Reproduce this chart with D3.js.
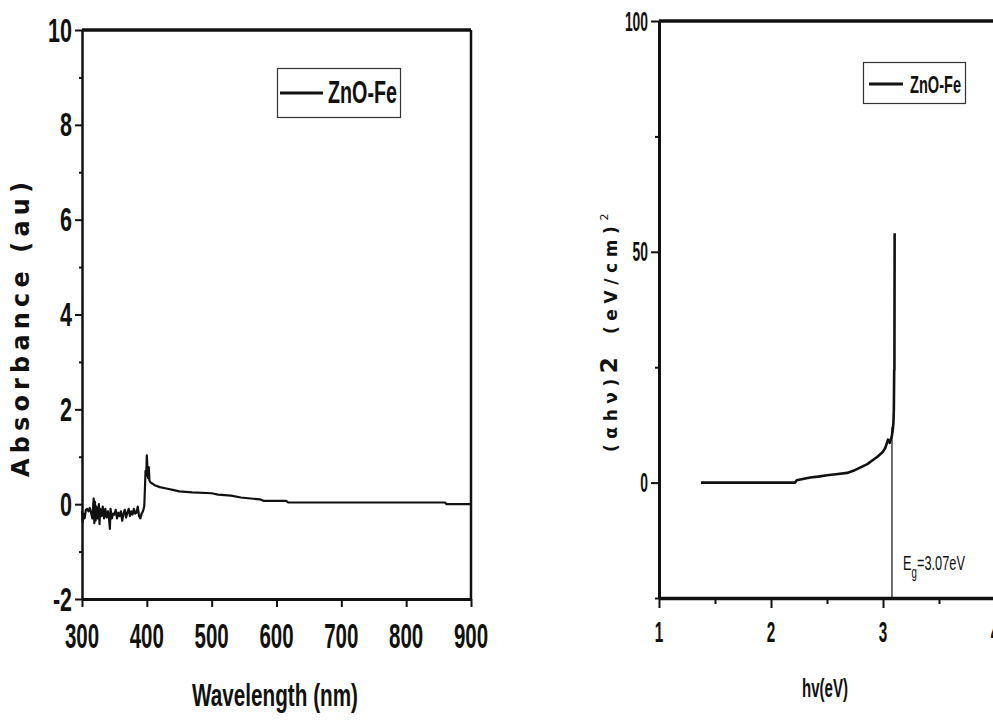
<!DOCTYPE html>
<html><head><meta charset="utf-8">
<script src="https://cdn.jsdelivr.net/npm/d3@7"></script>
<style>body{margin:0;background:#fff}svg{display:block}</style>
</head><body>
<svg id="c" width="993" height="720"></svg>
<script>
// ---------- data: left panel (UV-Vis absorbance) ----------
const wavelength = [300,301,302,304,306,308,310,312,314,316,318,319,320,321,322,324,326,327,328,330,332,334,336,338,340,342,343,344,346,348,350,352,354,356,358,360,362,364,366,368,370,372,374,376,378,380,382,384,386,388,390,392,394,396,397,398,399,400,401,402,403,404,406,408,412,420,430,440,450,470,500,510,530,545,560,575,580,615,618,860,862,900];
const absorbance = [-0.15,-0.38,-0.2,-0.3,-0.12,-0.1,-0.15,-0.08,-0.18,-0.3,0.12,-0.4,0.05,-0.35,-0.05,-0.3,0.0,-0.42,-0.1,-0.25,-0.05,-0.3,-0.1,-0.28,-0.15,-0.35,-0.52,-0.1,-0.3,-0.2,-0.22,-0.12,-0.3,-0.18,-0.25,-0.15,-0.35,-0.2,-0.12,-0.28,-0.18,-0.1,-0.25,-0.15,-0.22,-0.1,-0.2,-0.18,-0.05,-0.25,-0.3,-0.2,-0.15,-0.05,0.3,0.7,0.6,1.03,0.75,0.55,0.78,0.5,0.45,0.44,0.4,0.36,0.33,0.3,0.27,0.25,0.23,0.2,0.18,0.14,0.12,0.1,0.07,0.07,0.035,0.035,0.0,0.0];
const leftXTicks = [300,400,500,600,700,800,900];
const leftYTicks = [-2,0,2,4,6,8,10];
const leftYMinor = [-1,1,3,5,7,9];
const seriesName = "ZnO-Fe";

// ---------- data: right panel (Tauc plot) ----------
const photonEnergy = [1.375,1.6,1.8,2.0,2.214,2.23,2.35,2.42,2.5,2.58,2.68,2.74,2.8,2.86,2.91,2.95,3.0,3.02,3.045,3.06,3.078,3.085,3.093,3.097,3.1,3.102,3.104];
const tauc = [0,0,0,0,0,0.5,1.1,1.3,1.6,1.8,2.1,2.6,3.3,4.0,4.9,5.6,6.7,7.5,9.3,8.6,10.0,11.0,12.9,16,24.4,24.4,54];
const rightXTicks = [1,2,3,4];
const rightXMinor = [1.5,2.5,3.5];
const rightYTicks = [0,50,100];
const rightYMinor = [-25,25,75];
const egLineX = [3.08,3.08];
const egLineY = [12,-25];
const egLabel = "=3.07eV";

const svg = d3.select("#c");
const NARROW = "'Liberation Sans Narrow','Arial Narrow','Liberation Sans',sans-serif";
const WIDE = "'DejaVu Sans',Verdana,sans-serif";

function txt(g, s, x, y, o) {
  const t = g.append("text").attr("x", x).attr("y", y).text(s)
    .attr("font-family", o.family || NARROW)
    .attr("font-weight", o.weight || "bold")
    .attr("font-size", o.size)
    .attr("text-anchor", o.anchor || "start")
    .attr("fill", "#111");
  if (o.len) t.attr("textLength", o.len).attr("lengthAdjust", o.adj || "spacingAndGlyphs");
  return t;
}
function labelWidth(s, dw, mw) {
  let w = 0; for (const ch of String(s)) w += (ch === "-" ? mw : dw); return w;
}

// ================= LEFT PANEL =================
const xL = d3.scaleLinear().domain([300, 900]).range([82, 471]);
const yL = d3.scaleLinear().domain([-2, 10]).range([599, 30]);
const gL = svg.append("g");

gL.append("line").attr("x1", xL(300)).attr("x2", xL(900)).attr("y1", yL(10)).attr("y2", yL(10))
  .attr("stroke", "#111").attr("stroke-width", 3.5);
gL.append("line").attr("x1", xL(900)).attr("x2", xL(900)).attr("y1", yL(10)).attr("y2", yL(-2))
  .attr("stroke", "#111").attr("stroke-width", 2.5);

function styleAxis(sel, dw, tw) {
  sel.select(".domain").attr("stroke", "#111").attr("stroke-width", dw);
  sel.selectAll(".tick line").attr("stroke", "#111").attr("stroke-width", tw);
  sel.selectAll(".tick text").remove();
}
gL.append("g").attr("transform", `translate(${xL(300)},0)`)
  .call(d3.axisLeft(yL).tickValues(leftYMinor).tickSize(3).tickSizeOuter(0).tickFormat(""))
  .call(s => styleAxis(s, 0, 2));
gL.append("g").attr("transform", `translate(${xL(300)},0)`)
  .call(d3.axisLeft(yL).tickValues(leftYTicks).tickSize(7).tickSizeOuter(0).tickFormat(""))
  .call(s => styleAxis(s, 2.5, 2));
gL.append("g").attr("transform", `translate(0,${yL(-2)})`)
  .call(d3.axisBottom(xL).tickValues(leftXTicks).tickSize(8).tickSizeOuter(0).tickFormat(""))
  .call(s => styleAxis(s, 3, 2));

leftYTicks.forEach(v => txt(gL, String(v), 72, yL(v) + 11.5, {size: 33, anchor: "end", len: labelWidth(v, 12, 7)}));
leftXTicks.forEach(v => txt(gL, String(v), xL(v), 648, {size: 35, anchor: "middle", len: labelWidth(v, 11.4, 7)}));

txt(gL, "Wavelength (nm)", 192, 706, {size: 32, len: 166});
txt(gL, "Absorbance (au)", 0, 0, {size: 24, family: WIDE, len: 295, adj: "spacing"})
  .attr("transform", "translate(29,477) rotate(-90)");

const lineL = d3.line().x(d => xL(d[0])).y(d => yL(d[1]));
gL.append("path").datum(wavelength.map((w, i) => [w, absorbance[i]]))
  .attr("d", lineL).attr("fill", "none").attr("stroke", "#111").attr("stroke-width", 2.2)
  .attr("stroke-linejoin", "round");

gL.append("rect").attr("x", 277.5).attr("y", 68.5).attr("width", 123).attr("height", 49)
  .attr("fill", "#fff").attr("stroke", "#333").attr("stroke-width", 1.2);
gL.append("line").attr("x1", 280).attr("x2", 323).attr("y1", 93).attr("y2", 93)
  .attr("stroke", "#111").attr("stroke-width", 3);
txt(gL, seriesName, 328, 103, {size: 31, len: 69});

// ================= RIGHT PANEL =================
const xR = d3.scaleLinear().domain([1, 4]).range([659, 995]);
const yR = d3.scaleLinear().domain([-25, 100]).range([598, 21]);
const gR = svg.append("g");

gR.append("line").attr("x1", xR(1)).attr("x2", xR(4)).attr("y1", yR(100)).attr("y2", yR(100))
  .attr("stroke", "#111").attr("stroke-width", 3.5);

gR.append("g").attr("transform", `translate(${xR(1)},0)`)
  .call(d3.axisLeft(yR).tickValues(rightYMinor).tickSize(4).tickSizeOuter(0).tickFormat(""))
  .call(s => styleAxis(s, 0, 2));
gR.append("g").attr("transform", `translate(${xR(1)},0)`)
  .call(d3.axisLeft(yR).tickValues(rightYTicks).tickSize(8).tickSizeOuter(0).tickFormat(""))
  .call(s => styleAxis(s, 3, 2));
gR.append("g").attr("transform", `translate(0,${yR(-25)})`)
  .call(d3.axisBottom(xR).tickValues(rightXMinor).tickSize(6).tickSizeOuter(0).tickFormat(""))
  .call(s => styleAxis(s, 0, 2));
gR.append("g").attr("transform", `translate(0,${yR(-25)})`)
  .call(d3.axisBottom(xR).tickValues(rightXTicks).tickSize(10).tickSizeOuter(0).tickFormat(""))
  .call(s => styleAxis(s, 3.5, 2));

rightYTicks.forEach(v => txt(gR, String(v), 648, yR(v) + 9.5, {size: 27, anchor: "end", len: labelWidth(v, 7.7, 5)}));
rightXTicks.forEach(v => txt(gR, String(v), xR(v), 642, {size: 30, anchor: "middle", len: labelWidth(v, 8.5, 5)}));

txt(gR, "hv(eV)", 802, 697, {size: 26, len: 46});

// rotated y title, fitted to the reference span
const yt = gR.append("text").attr("transform", "translate(617,452) rotate(-90)")
  .attr("font-family", WIDE).attr("font-weight", "bold").attr("fill", "#111")
  .attr("font-size", 17);
const t1 = yt.append("tspan").text("(\u03B1h\u03BD)");
const t2 = yt.append("tspan").attr("font-size", 23).text("2");
const t3 = yt.append("tspan").attr("dx", 6).text(" (eV/cm)");
const t4 = yt.append("tspan").attr("font-size", 11).attr("font-weight", "normal").attr("dy", -9).text("2");
{
  const L0 = yt.node().getComputedTextLength();
  const n = "(\u03B1h\u03BD)2 (eV/cm)2".length;
  const sp = Math.max(0, (238 - L0) / n);
  yt.attr("letter-spacing", sp);
}

gR.append("line").attr("x1", xR(egLineX[0])).attr("x2", xR(egLineX[1]))
  .attr("y1", yR(egLineY[0])).attr("y2", yR(egLineY[1]))
  .attr("stroke", "#111").attr("stroke-width", 1.2);

const lineR = d3.line().x(d => xR(d[0])).y(d => yR(d[1]));
gR.append("path").datum(photonEnergy.map((e, i) => [e, tauc[i]]))
  .attr("d", lineR).attr("fill", "none").attr("stroke", "#111").attr("stroke-width", 2.6)
  .attr("stroke-linejoin", "round");

// Eg label as one text, squeezed horizontally to the reference width
const egG = gR.append("g").attr("transform", "translate(903,570)");
const eg = egG.append("text").attr("font-family", NARROW).attr("font-size", 21).attr("fill", "#111");
eg.append("tspan").text("E");
eg.append("tspan").attr("font-size", 16).attr("dy", 8).text("g");
eg.append("tspan").attr("dy", -8).text(egLabel);
{
  const w = eg.node().getComputedTextLength();
  egG.attr("transform", `translate(903,570) scale(${62 / w},1)`);
}

gR.append("rect").attr("x", 863.5).attr("y", 62.5).attr("width", 102).attr("height", 41)
  .attr("fill", "#fff").attr("stroke", "#333").attr("stroke-width", 1.2);
gR.append("line").attr("x1", 869).attr("x2", 903).attr("y1", 84).attr("y2", 84)
  .attr("stroke", "#111").attr("stroke-width", 3);
txt(gR, seriesName, 910, 93, {size: 24, len: 51});
</script>
</body></html>
